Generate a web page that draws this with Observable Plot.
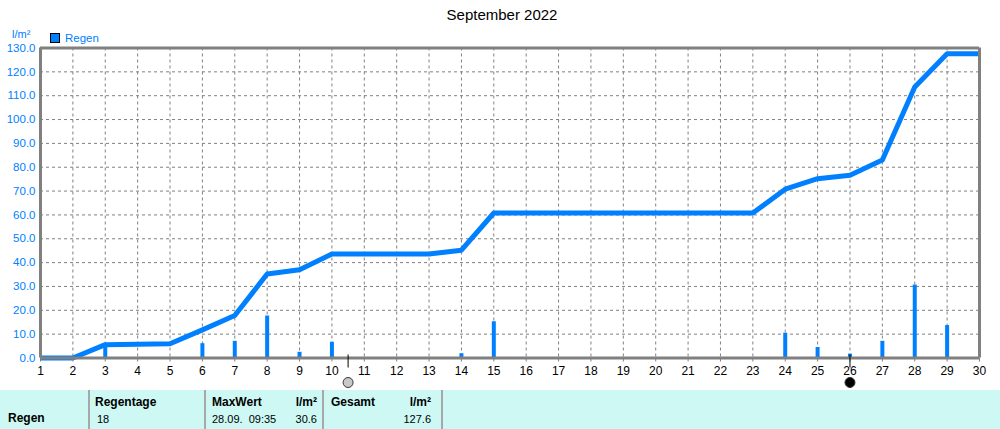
<!DOCTYPE html>
<html>
<head>
<meta charset="utf-8">
<script src="https://cdn.jsdelivr.net/npm/d3@7"></script>
<script src="https://cdn.jsdelivr.net/npm/@observablehq/plot@0.6"></script>
<style>
  body { margin: 0; background: #fff; font-family: "Liberation Sans", Arial, sans-serif; }
  #wrap { position: relative; width: 1000px; height: 429px; overflow: hidden; }
  #title { position: absolute; left: 0; width: 1004px; top: 6px; text-align: center; font-size: 15px; color: #000; }
  #unit { position: absolute; left: 12px; top: 28px; font-size: 11px; color: #0080ff; }
  #legend { position: absolute; left: 50px; top: 32px; font-size: 11.5px; color: #0080ff; display: flex; align-items: center; }
  #legend .sw { width: 8px; height: 8px; background: #0080ff; border: 1px solid #000; margin-right: 5px; }
  #chart { position: absolute; left: 0; top: 0; }
  #table { position: absolute; left: 0; top: 390px; width: 1000px; height: 39px; background: #cdf8f4; font-size: 11px; color: #000; }
  #table .sep { position: absolute; top: 0; height: 39px; width: 2px; background: #a8a8a8; }
  #table .t { position: absolute; white-space: pre; }
  #table .b { font-weight: bold; font-size: 12px; }
  #table .r { text-align: right; }
</style>
</head>
<body>
<div id="wrap">
  <div id="chart"></div>
  <div id="title"></div>
  <div id="unit"></div>
  <div id="legend"><div class="sw"></div><span id="legname"></span></div>
  <div id="table"></div>
</div>
<script>
// ---- data ----
const title = "September 2022";
const unit = "l/m²";
const seriesName = "Regen";
const days = d3.range(1, 31);
// cumulative rainfall (l/m²) at each day
const cumulative = [0, 0, 5.6, 5.8, 6.0, 11.8, 17.8, 35.2, 37.0, 43.6, 43.6, 43.6, 43.6, 45.2, 60.8,
  60.8, 60.8, 60.8, 60.8, 60.8, 60.8, 60.8, 60.8, 70.8, 75.2, 76.6, 83.0, 113.6, 127.6, 127.6];
// daily rainfall bars (l/m²)
const barDays = [3, 6, 7, 8, 9, 10, 14, 15, 24, 25, 26, 27, 28, 29];
const barValues = [5.6, 6.0, 7.0, 17.6, 2.4, 6.6, 1.8, 15.2, 10.4, 4.4, 1.6, 7.0, 30.6, 13.6];
const yTicks = d3.range(0, 131, 10);
// moon phases: full moon, new moon
const moonDays = [10.5, 26];
const moonFill = ["#c8c8c8", "#000000"];
// summary table
const tableRowLabel = "Regen";
const tableHeaders = ["Regentage", "MaxWert", "Gesamt"];
const rainDays = "18";
const maxDate = "28.09.  09:35";
const maxValue = "30.6";
const total = "127.6";

const blue = "#0080ff";
const grey = "#808080";

const lineData = days.map((d, i) => ({day: d, value: cumulative[i]}));
const bars = barDays.map((d, i) => ({day: d, value: barValues[i]}));
const moons = moonDays.map((d, i) => ({day: d, fill: moonFill[i]}));

document.getElementById("title").textContent = title;
document.getElementById("unit").textContent = unit;
document.getElementById("legname").textContent = seriesName;

const chart = Plot.plot({
  width: 1000,
  height: 389,
  marginTop: 47.5,
  marginLeft: 40,
  marginRight: 21,
  marginBottom: 31.5,
  style: {fontFamily: "Liberation Sans, Arial, sans-serif", fontSize: "11px", background: "transparent", overflow: "visible"},
  x: {domain: [1, 30], ticks: days, tickFormat: d => String(d), label: null},
  y: {domain: [0, 130], ticks: yTicks, label: null},
  marks: [
    Plot.ruleY(yTicks.filter(t => t > 0 && t < 130), {stroke: grey, strokeWidth: 1, strokeDasharray: "3,3"}),
    Plot.ruleX(days.filter(d => d > 1 && d < 30), {stroke: grey, strokeWidth: 1, strokeDasharray: "3,3"}),
    Plot.ruleX(bars, {x: "day", y1: 0, y2: "value", stroke: blue, strokeWidth: 4}),
    Plot.line(lineData, {x: "day", y: "value", stroke: blue, strokeWidth: 5, strokeLinejoin: "round", strokeLinecap: "butt"}),
    Plot.ruleY([130], {stroke: grey, strokeWidth: 3}),
    Plot.ruleX([30], {stroke: grey, strokeWidth: 3}),
    Plot.ruleX([1], {stroke: grey, strokeWidth: 3}),
    Plot.ruleY([0], {stroke: grey, strokeWidth: 3}),
    Plot.axisX({ticks: days, tickFormat: d => String(d), tickSize: 4, tickPadding: 4, stroke: grey, fontSize: 12, color: "#000", label: null}),
    Plot.axisY({ticks: yTicks, tickFormat: d => d.toFixed(1), tickSize: 0, tickPadding: 5, fill: blue, fontSize: 11.5, label: null}),
    Plot.ruleX(moons, {x: "day", y: 0, stroke: "#000", strokeWidth: 1, insetTop: -3, insetBottom: -10}),
    Plot.dot(moons, {x: "day", y: 0, dy: 24.5, r: 5, fill: "fill", stroke: "#333", strokeWidth: 1})
  ]
});
document.getElementById("chart").appendChild(chart);

// summary table
const tbl = document.getElementById("table");
function t(text, left, top, cls, width) {
  const e = document.createElement("div");
  e.className = "t " + (cls || "");
  e.textContent = text;
  e.style.left = left + "px";
  e.style.top = top + "px";
  if (width) e.style.width = width + "px";
  tbl.appendChild(e);
}
[88, 204, 322, 441].forEach(x => {
  const s = document.createElement("div");
  s.className = "sep"; s.style.left = x + "px"; tbl.appendChild(s);
});
t(tableRowLabel, 8, 21, "b");
t(tableHeaders[0], 95, 5, "b");
t(rainDays, 97, 23, "");
t(tableHeaders[1], 212, 5, "b");
t(unit, 260, 5, "b r", 57);
t(maxDate, 212, 23, "");
t(maxValue, 260, 23, "r", 57);
t(tableHeaders[2], 331, 5, "b");
t(unit, 370, 5, "b r", 61);
t(total, 370, 23, "r", 61);
</script>
</body>
</html>
